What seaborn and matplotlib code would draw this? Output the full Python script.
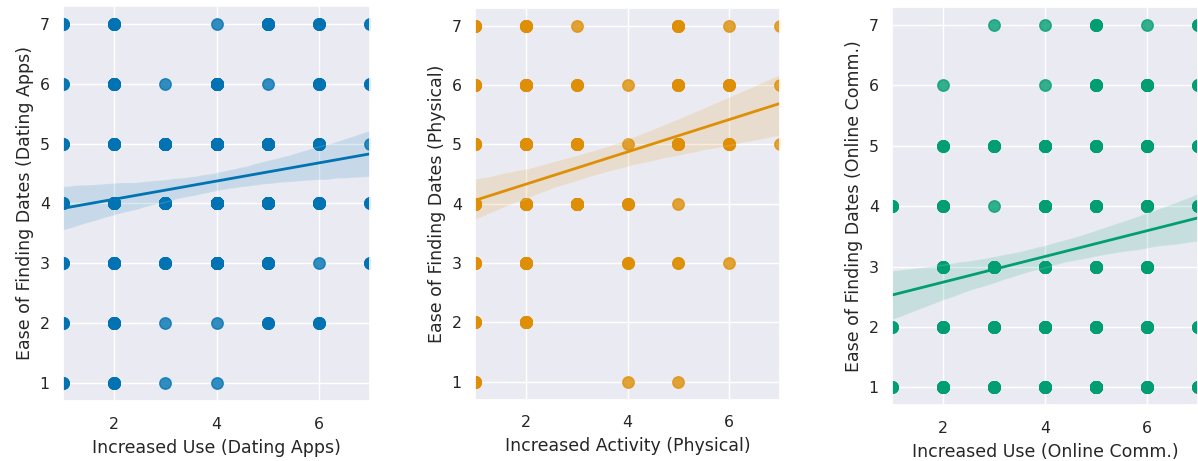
import numpy as np
import pandas as pd
import matplotlib
matplotlib.use("Agg")
import matplotlib.pyplot as plt
import seaborn as sns

# Likert levels (1..7) on both axes
levels = [1, 2, 3, 4, 5, 6, 7]

# Respondent counts per cell: rows = x level 1..7, columns = y level 1..7
dating_counts = [
    [3, 3, 3, 3, 3, 2, 3],
    [6, 9, 12, 14, 12, 10, 7],
    [1, 1, 6, 17, 19, 1, 0],
    [1, 1, 19, 28, 24, 16, 1],
    [0, 4, 10, 18, 17, 1, 10],
    [0, 4, 1, 9, 7, 5, 4],
    [0, 0, 3, 3, 1, 3, 2],
]
physical_counts = [
    [6, 6, 7, 10, 8, 7, 6],
    [0, 9, 10, 12, 12, 11, 6],
    [0, 0, 0, 20, 10, 4, 1],
    [1, 0, 3, 4, 1, 1, 0],
    [1, 0, 2, 1, 8, 7, 6],
    [0, 0, 1, 0, 5, 5, 1],
    [0, 0, 0, 0, 1, 1, 1],
]
online_counts = [
    [4, 3, 0, 5, 0, 0, 0],
    [9, 8, 7, 6, 4, 1, 0],
    [8, 7, 10, 1, 8, 0, 1],
    [10, 12, 12, 12, 12, 1, 1],
    [16, 12, 10, 10, 10, 7, 5],
    [9, 9, 8, 10, 9, 9, 1],
    [5, 5, 0, 4, 5, 3, 3],
]

x_labels = ["Increased Use (Dating Apps)", "Increased Activity (Physical)",
            "Increased Use (Online Comm.)"]
y_labels = ["Ease of Finding Dates (Dating Apps)", "Ease of Finding Dates (Physical)",
            "Ease of Finding Dates (Online Comm.)"]
x_ticks = [2, 4, 6]
y_ticks = [1, 2, 3, 4, 5, 6, 7]


def expand(counts):
    xs, ys = [], []
    for i, row in enumerate(counts):
        for j, c in enumerate(row):
            xs += [levels[i]] * c
            ys += [levels[j]] * c
    return pd.DataFrame({"x": xs, "y": ys})


sns.set_theme(style="darkgrid", palette="colorblind")
plt.rcParams["font.family"] = ["DejaVu Sans"]
plt.rcParams["xtick.labelsize"] = 11.3
plt.rcParams["ytick.labelsize"] = 11.3
plt.rcParams["axes.labelsize"] = 12.5
plt.rcParams["xtick.major.pad"] = 5.5

colors = sns.color_palette("colorblind")[:3]

fig = plt.figure(figsize=(11.98, 4.61), dpi=100)
positions = [
    [0.0526, 0.1302, 0.2563, 0.8568],
    [0.3965, 0.1334, 0.2546, 0.8495],
    [0.7446, 0.1206, 0.2554, 0.8644],
]
datasets = [dating_counts, physical_counts, online_counts]

for k in range(3):
    ax = fig.add_axes(positions[k])
    df = expand(datasets[k])
    sns.regplot(data=df, x="x", y="y", ax=ax, color=colors[k], seed=0,
                scatter_kws={"s": 68}, line_kws={"linewidth": 2})
    ax.set_xlim(1, 7)
    ax.set_ylim(0.7, 7.3)
    ax.set_xticks(x_ticks)
    ax.set_yticks(y_ticks)
    ax.set_xlabel(x_labels[k], labelpad=5)
    ax.set_ylabel(y_labels[k])

fig.savefig("out.png", dpi=100)
